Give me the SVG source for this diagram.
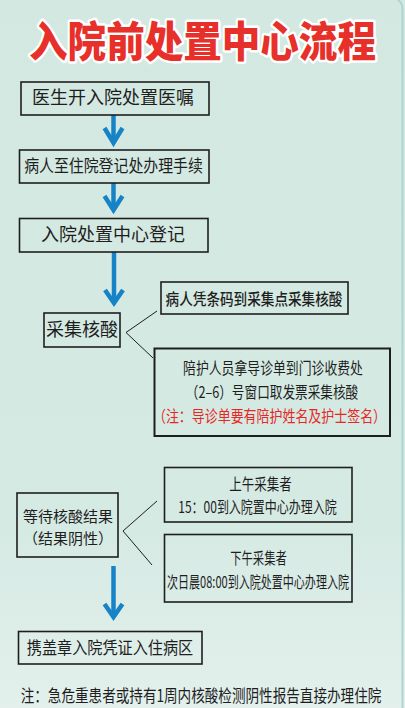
<svg xmlns="http://www.w3.org/2000/svg" width="405" height="708" viewBox="0 0 405 708">
<defs>
<linearGradient id="bg" x1="0" y1="0" x2="0" y2="1">
<stop offset="0" stop-color="#d3e8e1"/>
<stop offset="0.75" stop-color="#d6eae4"/>
<stop offset="1" stop-color="#e3f0ec"/>
</linearGradient>
<style>
.box{fill:none;stroke:#1e1e1e;stroke-width:1.6}
.t{font-family:"Noto Sans CJK SC","Noto Sans",sans-serif;fill:#1e1e1e;font-size:17px;text-anchor:middle}
.s15{font-size:15px}
.s16{font-size:16px}
.s18{font-size:18px}
.red{fill:#e8261f}
.arrow{fill:none;stroke:#1683c6;stroke-width:4.5}
.br{fill:none;stroke:#1e1e1e;stroke-width:1}
.title{font-family:"Noto Sans CJK SC","Noto Sans",sans-serif;font-weight:900;font-size:42px;fill:#e8302a;stroke:#ffffff;stroke-width:5;stroke-linejoin:round;paint-order:stroke;text-anchor:middle}
</style>
</defs>
<rect x="0" y="0" width="405" height="708" fill="url(#bg)"/>
<rect x="-20" y="-3" width="422.5" height="730" rx="12" fill="none" stroke="#aed6cf" stroke-width="2"/>
<text class="title" transform="translate(202.5 57) scale(0.918 1)">入院前处置中心流程</text>

<g id="connectors">
<path class="arrow" d="M113.5 115V143"/><polyline class="arrow" points="104.5,128 113.5,143 122.5,128"/>
<path class="arrow" d="M113.5 183V210"/><polyline class="arrow" points="104.5,196 113.5,210 122.5,196"/>
<path class="arrow" d="M114 252V303"/><polyline class="arrow" points="105,290 114,303 123,290"/>
<path class="arrow" d="M113.5 566V617"/><polyline class="arrow" points="104.5,604 113.5,617 122.5,604"/>
<polyline class="br" points="157,311 126,332.5 153,358"/>
<polyline class="br" points="157,501 123,531 152,565"/>
</g>

<g id="n1"><rect class="box" x="21" y="82" width="188" height="33"/><text class="t s18" x="113" y="104">医生开入院处置医嘱</text></g>
<g id="n2"><rect class="box" x="19.5" y="150" width="189.5" height="33"/><text class="t" transform="translate(113.5 172) scale(0.877 1)">病人至住院登记处办理手续</text></g>
<g id="n3"><rect class="box" x="19.5" y="218.5" width="188.5" height="33.5"/><text class="t s18" x="113" y="241">入院处置中心登记</text></g>
<g id="n4"><rect class="box" x="44" y="313" width="76" height="34"/><text class="t s18" x="82" y="336">采集核酸</text></g>
<g id="n5"><rect class="box" x="161" y="282" width="187" height="32"/><text class="t s16" style="font-weight:500" transform="translate(254 305) scale(0.851 1)">病人凭条码到采集点采集核酸</text></g>
<g id="n6"><rect class="box" x="154.5" y="348.5" width="235.5" height="87.5" style="stroke-width:2"/>
<text class="t s16" transform="translate(273 374) scale(0.804 1)">陪护人员拿导诊单到门诊收费处</text>
<text class="t s16" transform="translate(272 398) scale(0.79 1)">（2–6）号窗口取发票采集核酸</text>
<text class="t s16 red" transform="translate(269.5 422) scale(0.81 1)">（注：导诊单要有陪护姓名及护士签名）</text></g>
<g id="n7"><rect class="box" x="17" y="493" width="101" height="64"/>
<text class="t s15" x="68" y="521.5">等待核酸结果</text>
<text class="t s15" x="68" y="543.5">（结果阴性）</text></g>
<g id="n8"><rect class="box" x="164.5" y="467.5" width="187.5" height="54.5"/>
<text class="t s16" transform="translate(260.5 490) scale(0.78 1)">上午采集者</text>
<text class="t s16" transform="translate(257.5 513) scale(0.75 1)">15：00到入院置中心办理入院</text></g>
<g id="n9"><rect class="box" x="164.5" y="534.5" width="187.5" height="67.5"/>
<text class="t s16" transform="translate(258.5 564) scale(0.71 1)">下午采集者</text>
<text class="t s16" transform="translate(258 588) scale(0.69 1)">次日晨08:00到入院处置中心办理入院</text></g>
<g id="n10"><rect class="box" x="18.5" y="631.5" width="183.5" height="32.5"/><text class="t" transform="translate(110 654) scale(0.89 1)">携盖章入院凭证入住病区</text></g>
<text class="t" transform="translate(201 702) scale(0.8 1)">注：急危重患者或持有1周内核酸检测阴性报告直接办理住院</text>
</svg>
